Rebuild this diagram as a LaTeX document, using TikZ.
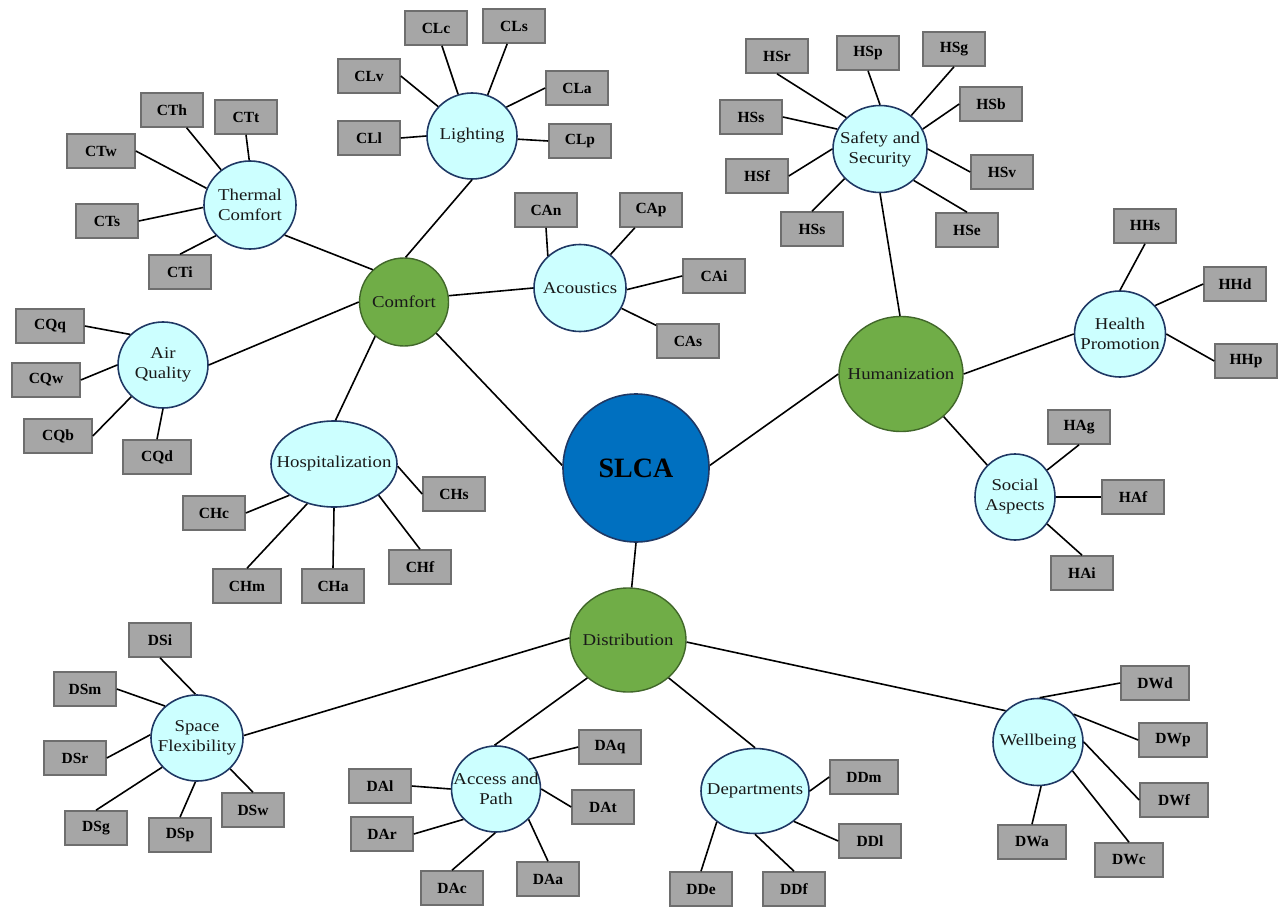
\documentclass[tikz,border=0pt]{standalone}
\usepackage{fontspec}
\setmainfont{Liberation Serif}
\newfontfamily\circfont[FakeStretch=1.14]{Liberation Serif}
\usetikzlibrary{shapes.geometric}
\definecolor{boxfill}{HTML}{A6A6A6}
\definecolor{boxline}{HTML}{6E6E6E}
\definecolor{cyanfill}{HTML}{CCFFFF}
\definecolor{navyline}{HTML}{1F3864}
\definecolor{greenfill}{HTML}{70AD47}
\definecolor{greenline}{HTML}{41672A}
\definecolor{bluefill}{HTML}{0070C0}
\begin{document}
\begin{tikzpicture}[x=1pt,y=-1pt,
  conn/.style={line width=1.6pt, draw=black},
  leafbox/.style={draw=boxline, fill=boxfill, line width=1.6pt, minimum width=62pt, minimum height=34pt, inner sep=0pt, font=\fontsize{15.5}{18}\selectfont\bfseries},
  wide/.style={minimum width=68pt},
  sub/.style={ellipse, draw=navyline, fill=cyanfill, line width=1.6pt, inner sep=0pt},
  main/.style={ellipse, draw=greenline, fill=greenfill, line width=1.4pt, inner sep=0pt},
  lab/.style={font=\circfont\fontsize{16.5}{20}\selectfont, align=center, text=black!90}]
\useasboundingbox (0,0) rectangle (1281,909);

% main nodes
\node[ellipse, draw=navyline, fill=bluefill, line width=1.6pt, inner sep=0pt, minimum width=146pt, minimum height=148pt,
  label={[font=\fontsize{28}{30}\selectfont\bfseries]center:SLCA}] (S) at (636,468) {};
\node[main, minimum width=89pt, minimum height=88pt, label={[lab]center:Comfort}] (C) at (404,302) {};
\node[main, minimum width=124pt, minimum height=115pt, label={[lab]center:Humanization}] (H) at (901,374) {};
\node[main, minimum width=116pt, minimum height=104pt, label={[lab]center:Distribution}] (D) at (628,640) {};

% sub nodes
\node[sub, minimum width=90pt, minimum height=86pt, label={[lab]center:Lighting}] (CL) at (472,136) {};
\node[sub, minimum width=92pt, minimum height=88pt, label={[lab]center:{Thermal\\Comfort}}] (CT) at (250,205) {};
\node[sub, minimum width=92pt, minimum height=87pt, label={[lab]center:Acoustics}] (CA) at (580,288) {};
\node[sub, minimum width=90pt, minimum height=86pt, label={[lab]center:{Air\\Quality}}] (CQ) at (163,365) {};
\node[sub, minimum width=126pt, minimum height=86pt, label={[lab]center:Hospitalization}] (CH) at (334,464) {};
\node[sub, minimum width=94pt, minimum height=87pt, label={[lab]center:{Safety and\\Security}}] (HS) at (880,149) {};
\node[sub, minimum width=91pt, minimum height=86pt, label={[lab]center:{Health\\Promotion}}] (HH) at (1120,334) {};
\node[sub, minimum width=80pt, minimum height=86pt, label={[lab]center:{Social\\Aspects}}] (HA) at (1015,497) {};
\node[sub, minimum width=92pt, minimum height=86pt, label={[lab]center:{Space\\Flexibility}}] (DS) at (197,738) {};
\node[sub, minimum width=89pt, minimum height=86pt, label={[lab]center:{Access and\\Path}}] (DA) at (496,789) {};
\node[sub, minimum width=108pt, minimum height=85pt, label={[lab]center:Departments}] (DD) at (755,791) {};
\node[sub, minimum width=90pt, minimum height=87pt, label={[lab]center:Wellbeing}] (DW) at (1038,742) {};

% leaves: Lighting
\node[leafbox] (CLc) at (436,28) {CLc};
\node[leafbox] (CLs) at (514,26) {CLs};
\node[leafbox] (CLv) at (369,76) {CLv};
\node[leafbox] (CLa) at (577,88) {CLa};
\node[leafbox] (CLl) at (369,138) {CLl};
\node[leafbox] (CLp) at (580,141) {CLp};
% Thermal
\node[leafbox] (CTh) at (172,110) {CTh};
\node[leafbox] (CTt) at (246,117) {CTt};
\node[leafbox, wide] (CTw) at (101,151) {CTw};
\node[leafbox] (CTs) at (107,221) {CTs};
\node[leafbox] (CTi) at (180,272) {CTi};
% Acoustics
\node[leafbox] (CAn) at (546,210) {CAn};
\node[leafbox] (CAp) at (651,210) {CAp};
\node[leafbox] (CAi) at (714,276) {CAi};
\node[leafbox] (CAs) at (688,341) {CAs};
% Air quality
\node[leafbox, wide] (CQq) at (50,326) {CQq};
\node[leafbox, wide] (CQw) at (46,380) {CQw};
\node[leafbox, wide] (CQb) at (58,436) {CQb};
\node[leafbox, wide] (CQd) at (157,457) {CQd};
% Hospitalization
\node[leafbox] (CHc) at (214,513) {CHc};
\node[leafbox] (CHs) at (454,494) {CHs};
\node[leafbox, wide] (CHm) at (247,586) {CHm};
\node[leafbox] (CHa) at (333,586) {CHa};
\node[leafbox] (CHf) at (420,567) {CHf};
% Safety
\node[leafbox] (HSr) at (777,56) {HSr};
\node[leafbox] (HSp) at (868,53) {HSp};
\node[leafbox] (HSg) at (954,49) {HSg};
\node[leafbox] (HSb) at (991,104) {HSb};
\node[leafbox] (HSs1) at (751,117) {HSs};
\node[leafbox] (HSf) at (757,176) {HSf};
\node[leafbox] (HSv) at (1002,172) {HSv};
\node[leafbox] (HSs2) at (812,229) {HSs};
\node[leafbox] (HSe) at (967,230) {HSe};
% Health promotion
\node[leafbox] (HHs) at (1145,226) {HHs};
\node[leafbox] (HHd) at (1235,284) {HHd};
\node[leafbox] (HHp) at (1246,361) {HHp};
% Social
\node[leafbox] (HAg) at (1079,427) {HAg};
\node[leafbox] (HAf) at (1133,497) {HAf};
\node[leafbox] (HAi) at (1082,573) {HAi};
% Space flexibility
\node[leafbox] (DSi) at (160,640) {DSi};
\node[leafbox] (DSm) at (85,689) {DSm};
\node[leafbox] (DSr) at (75,758) {DSr};
\node[leafbox] (DSg) at (96,828) {DSg};
\node[leafbox] (DSp) at (180,835) {DSp};
\node[leafbox] (DSw) at (253,810) {DSw};
% Access and path
\node[leafbox] (DAq) at (610,747) {DAq};
\node[leafbox] (DAl) at (380,786) {DAl};
\node[leafbox] (DAt) at (603,807) {DAt};
\node[leafbox] (DAr) at (382,834) {DAr};
\node[leafbox] (DAc) at (452,888) {DAc};
\node[leafbox] (DAa) at (548,879) {DAa};
% Departments
\node[leafbox, wide] (DDm) at (864,777) {DDm};
\node[leafbox] (DDl) at (870,841) {DDl};
\node[leafbox] (DDe) at (701,889) {DDe};
\node[leafbox] (DDf) at (794,889) {DDf};
% Wellbeing
\node[leafbox, wide] (DWd) at (1155,683) {DWd};
\node[leafbox, wide] (DWp) at (1173,740) {DWp};
\node[leafbox, wide] (DWf) at (1174,800) {DWf};
\node[leafbox, wide] (DWa) at (1032,842) {DWa};
\node[leafbox, wide] (DWc) at (1129,860) {DWc};

% main connectors
\draw[conn] (C.-44) -- (S.178);
\draw[conn] (S.2) -- (H.180);
\draw[conn] (S.270) -- (D.86);
\draw[conn] (C.88) -- (CL.270);
\draw[conn] (C.134) -- (CT.-41);
\draw[conn] (C.8) -- (CA.180);
\draw[conn] (C.180) -- (CQ.0);
\draw[conn] (C.-130) -- (CH.88);
\draw[conn] (H.91) -- (HS.270);
\draw[conn] (H.0) -- (HH.180);
\draw[conn] (H.-45) -- (HA.131);
\draw[conn] (D.178) -- (DS.3);
\draw[conn] (D.-137) -- (DA.92);
\draw[conn] (D.-43) -- (DD.90);
\draw[conn] (D.-2) -- (DW.136);

% Lighting
\draw[conn] (CLc) -- (CL);
\draw[conn] (CLs) -- (CL);
\draw[conn] (CLv.east) -- (CL.139);
\draw[conn] (CLa.west) -- (CL.40);
\draw[conn] (CLl.east) -- (CL.180);
\draw[conn] (CLp.west) -- (CL.-4);
% Thermal
\draw[conn] (CTh) -- (CT);
\draw[conn] (CTt.south) -- (CT.91);
\draw[conn] (CTw.east) -- (CT.159);
\draw[conn] (CTs.east) -- (CT.183);
\draw[conn] (CTi.north) -- (CT.-138);
% Acoustics
\draw[conn] (CAn.south) -- (CA.135);
\draw[conn] (CAp) -- (CA);
\draw[conn] (CAi.west) -- (CA.-2);
\draw[conn] (CAs) -- (CA);
% Air quality
\draw[conn] (CQq.east) -- (CQ.137);
\draw[conn] (CQw.east) -- (CQ.180);
\draw[conn] (CQb.east) -- (CQ.-135);
\draw[conn] (CQd.north) -- (CQ.270);
% Hospitalization
\draw[conn] (CHc.east) -- (CH.-145);
\draw[conn] (CHs.west) -- (CH.-2);
\draw[conn] (CHm.north) -- (CH.-124);
\draw[conn] (CHa.north) -- (CH.270);
\draw[conn] (CHf.north) -- (CH.-35);
% Safety
\draw[conn] (HSr.south) -- (HS.137);
\draw[conn] (HSp.south) -- (HS.90);
\draw[conn] (HSg.south) -- (HS.47);
\draw[conn] (HSb.west) -- (HS.25);
\draw[conn] (HSs1.east) -- (HS.155);
\draw[conn] (HSf.east) -- (HS.180);
\draw[conn] (HSv.west) -- (HS.0);
\draw[conn] (HSs2.north) -- (HS.-140);
\draw[conn] (HSe.north) -- (HS.-43);
% Health
\draw[conn] (HHs.south) -- (HH.90);
\draw[conn] (HHd.west) -- (HH.39);
\draw[conn] (HHp.west) -- (HH.0);
% Social
\draw[conn] (HAg.south) -- (HA.40);
\draw[conn] (HAf.west) -- (HA.0);
\draw[conn] (HAi.north) -- (HA.-40);
% Space flexibility
\draw[conn] (DSi.south) -- (DS.92);
\draw[conn] (DSm.east) -- (DS.135);
\draw[conn] (DSr.east) -- (DS.176);
\draw[conn] (DSg.north) -- (DS.-140);
\draw[conn] (DSp.north) -- (DS.-92);
\draw[conn] (DSw.north) -- (DS.-43);
% Access and path
\draw[conn] (DAq.west) -- (DA.42);
\draw[conn] (DAl.east) -- (DA.180);
\draw[conn] (DAt.west) -- (DA.0);
\draw[conn] (DAr.east) -- (DA.-137);
\draw[conn] (DAc.north) -- (DA.-91);
\draw[conn] (DAa.north) -- (DA.-43);
% Departments
\draw[conn] (DDm.west) -- (DD.0);
\draw[conn] (DDl.west) -- (DD.-38);
\draw[conn] (DDe.north) -- (DD.-141);
\draw[conn] (DDf.north) -- (DD.-90);
% Wellbeing
\draw[conn] (DWd.west) -- (DW.88);
\draw[conn] (DWp.west) -- (DW.38);
\draw[conn] (DWf.west) -- (DW.0);
\draw[conn] (DWa.north) -- (DW.-86);
\draw[conn] (DWc.north) -- (DW.-40);
\end{tikzpicture}
\end{document}
